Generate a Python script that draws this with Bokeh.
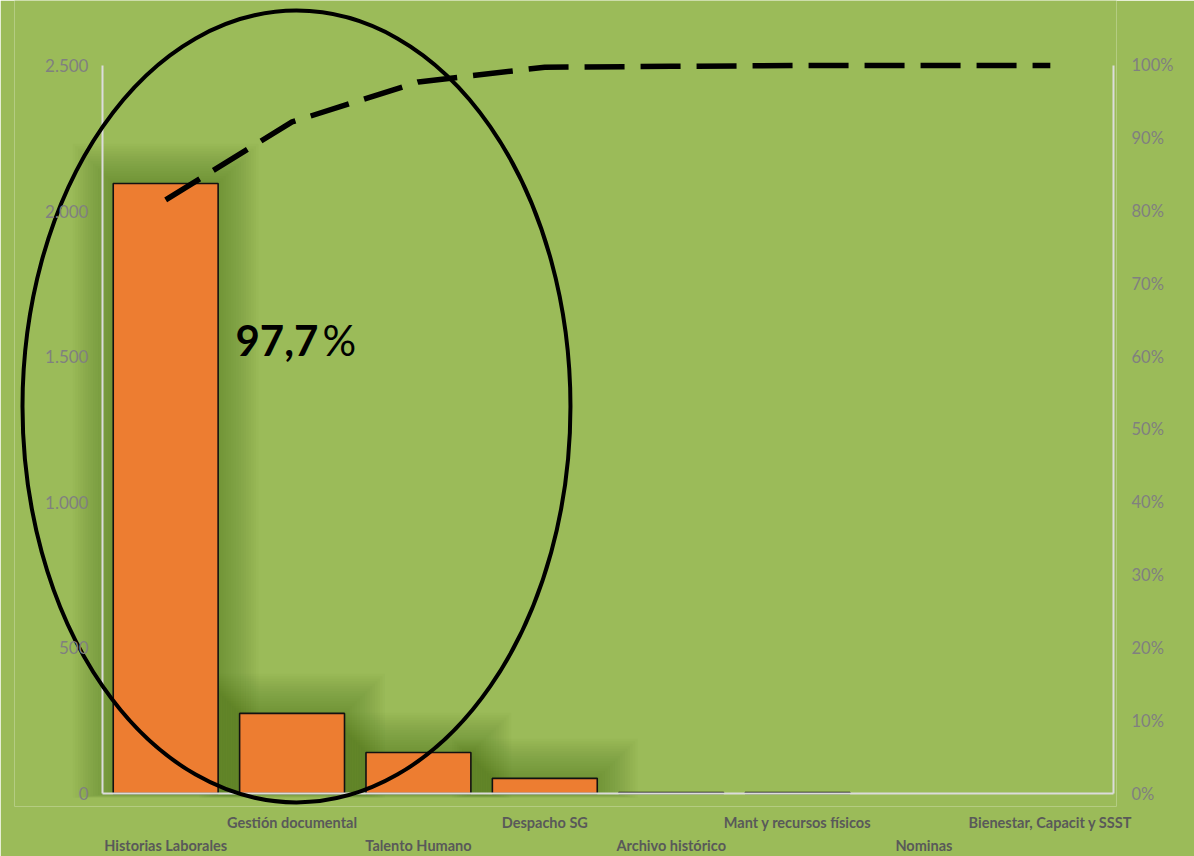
import numpy as np
from bokeh.plotting import figure
from bokeh.models import (ColumnDataSource, Range1d, LinearAxis, FixedTicker, Label,
                          NumeralTickFormatter)
from bokeh.embed import file_html
from bokeh.resources import INLINE

# ---------------- data ----------------
categories = ["Historias Laborales", "Gestión documental", "Talento Humano", "Despacho SG",
              "Archivo histórico", "Mant y recursos físicos", "Nominas", "Bienestar, Capacit y SSST"]
counts = [2095, 275, 141, 52, 3, 3, 0, 0]
left_ticks = [0, 500, 1000, 1500, 2000, 2500]
left_tick_labels = ["0", "500", "1.000", "1.500", "2.000", "2.500"]
right_ticks = [0.0, 0.1, 0.2, 0.3, 0.4, 0.5, 0.6, 0.7, 0.8, 0.9, 1.0]
highlight_index = 2  # cumulative share written in the highlight (through Talento Humano)

n = len(categories)
positions = [i + 0.5 for i in range(n)]
total = float(sum(counts))
cum_share = list(np.cumsum(counts) / total)
highlight_text = f"{cum_share[highlight_index] * 100:.1f}".replace(".", ",")
y_max = left_ticks[-1]

BG = "#9bbb59"
AXIS_LINE = "#dcdcdc"
TICK_GREY = "#808080"
LABEL_GREY = "#595959"
FONT = "Lato"

# plot window (data extents a little beyond the axes so the highlight ellipse is not cut)
X0, X1 = -0.6963, n + 0.0237
Y0, Y1 = -44.64, 2723.2

p = figure(x_range=Range1d(X0, X1), y_range=Range1d(Y0, Y1),
           width=1194, height=856,
           min_border_left=14, min_border_right=78, min_border_top=0, min_border_bottom=50,
           output_backend="svg", toolbar_location=None)
p.extra_y_ranges = {"pct": Range1d(Y0 / y_max, Y1 / y_max)}

p.background_fill_color = BG
p.border_fill_color = BG
p.outline_line_color = None
p.xgrid.visible = False
p.ygrid.visible = False


def no_ticks(ax):
    ax.axis_line_color = None
    ax.major_tick_line_color = None
    ax.minor_tick_line_color = None
    ax.major_tick_out = 0
    ax.major_tick_in = 0
    ax.minor_tick_out = 0
    ax.minor_tick_in = 0


# ---------------- left axis ----------------
ya = p.yaxis[0]
ya.fixed_location = 0
ya.ticker = FixedTicker(ticks=left_ticks)
ya.major_label_overrides = dict(zip(left_ticks, left_tick_labels))
no_ticks(ya)
ya.major_label_text_color = TICK_GREY
ya.major_label_text_font = FONT
ya.major_label_text_font_size = "17px"
ya.major_label_standoff = 14

# ---------------- right axis ----------------
ra = LinearAxis(y_range_name="pct", ticker=FixedTicker(ticks=right_ticks),
                formatter=NumeralTickFormatter(format="0%"))
no_ticks(ra)
ra.major_label_text_color = TICK_GREY
ra.major_label_text_font = FONT
ra.major_label_text_font_size = "16.5px"
ra.major_label_standoff = 15
p.add_layout(ra, "right")


# ---------------- bottom axes (staggered category labels) ----------------
def style_cat_axis(ax, idx, standoff):
    ax.ticker = FixedTicker(ticks=[positions[i] for i in idx])
    ax.major_label_overrides = {positions[i]: categories[i] for i in idx}
    no_ticks(ax)
    ax.major_label_text_color = LABEL_GREY
    ax.major_label_text_font = FONT
    ax.major_label_text_font_style = "bold"
    ax.major_label_text_font_size = "14.5px"
    ax.major_label_standoff = standoff
    ax.major_label_orientation = "horizontal"


style_cat_axis(p.xaxis[0], [i for i in range(n) if i % 2 == 1], 7)
xb = LinearAxis()
style_cat_axis(xb, [i for i in range(n) if i % 2 == 0], 3)
p.add_layout(xb, "below")

# ---------------- bars with soft shadow ----------------
shadow_idx = [i for i in range(n) if counts[i] >= 10]
for k in range(16, 0, -1):
    shadow = ColumnDataSource(dict(x=[positions[i] for i in shadow_idx],
                                   top=[counts[i] + 8.5 * k for i in shadow_idx],
                                   bottom=[-0.9 * k for _ in shadow_idx]))
    p.vbar(x="x", top="top", bottom="bottom", width=0.83 + 0.04 * k, source=shadow,
           fill_color="#2f4a10", fill_alpha=0.022, line_color=None)

src = ColumnDataSource(dict(x=positions, val=counts,
                            la=[1.0 if v > 0 else 0.0 for v in counts]))
p.vbar(x="x", top="val", bottom=0, width=0.83, source=src,
       fill_color="#ed7d31", line_color="#111111", line_width=1.6, line_alpha="la")

# axis lines spanning only the value domain (drawn over the bar bottoms)
p.segment(x0=[0, n, 0], y0=[0, 0, 0], x1=[0, n, n], y1=[y_max, y_max, 0],
          line_color=AXIS_LINE, line_width=2)

# ---------------- cumulative dashed line ----------------
p.line(x=positions, y=cum_share, y_range_name="pct", line_color="black",
       line_width=5.5, line_dash="40 16", line_cap="butt", line_join="round")

# ---------------- ellipse highlight ----------------
ellipse_center = (1.535, 1329.0)
ellipse_size = (4.336, 2720.0)
p.ellipse(x=[ellipse_center[0]], y=[ellipse_center[1]],
          width=[ellipse_size[0]], height=[ellipse_size[1]],
          fill_color=None, line_color="black", line_width=4)

lab1 = Label(x=1.052, y=1556, text=highlight_text, text_font=FONT, text_font_style="bold",
             text_font_size="42px", text_color="black", text_baseline="alphabetic")
lab2 = Label(x=1.052, y=1556, x_offset=87, text="%", text_font=FONT,
             text_font_size="42px", text_color="black", text_baseline="alphabetic")
p.add_layout(lab1)
p.add_layout(lab2)

open("out.html", "w").write(file_html(p, INLINE))
